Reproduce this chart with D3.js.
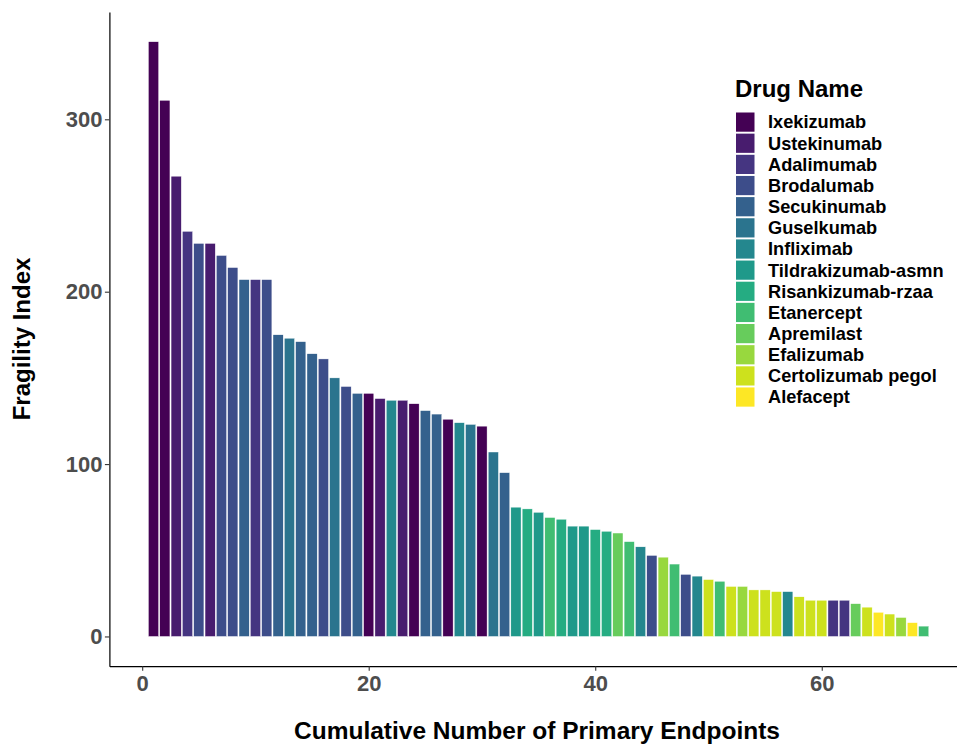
<!DOCTYPE html>
<html>
<head>
<meta charset="utf-8">
<script src="https://cdn.jsdelivr.net/npm/d3@7"></script>
<style>
  html, body { margin: 0; padding: 0; background: #fff; }
  svg { display: block; }
  text { font-family: "Liberation Sans", Arial, sans-serif; font-weight: bold; }
</style>
</head>
<body>
<svg id="chart" width="957" height="747"></svg>
<script>
// ---- data ----
const drugNames = ["Ixekizumab","Ustekinumab","Adalimumab","Brodalumab","Secukinumab","Guselkumab","Infliximab","Tildrakizumab-asmn","Risankizumab-rzaa","Etanercept","Apremilast","Efalizumab","Certolizumab pegol","Alefacept"];
const fragilityIndex = [345,311,267,235,228,228,221,214,207,207,207,175,173,171,164,161,150,145,141,141,138,137,137,135,131,129,126,124,123,122,107,95,75,74,72,69,68,64,64,62,61,60,55,52,47,46,42,36,35,33,32,29,29,27,27,26,26,23,21,21,21,21,19,17,14,13,11,8,6];
const barDrug = ["Ixekizumab","Ixekizumab","Ustekinumab","Adalimumab","Brodalumab","Ustekinumab","Brodalumab","Brodalumab","Secukinumab","Adalimumab","Brodalumab","Secukinumab","Guselkumab","Secukinumab","Secukinumab","Brodalumab","Guselkumab","Brodalumab","Secukinumab","Ixekizumab","Ustekinumab","Infliximab","Ustekinumab","Ixekizumab","Secukinumab","Secukinumab","Ixekizumab","Infliximab","Guselkumab","Ixekizumab","Guselkumab","Secukinumab","Tildrakizumab-asmn","Risankizumab-rzaa","Tildrakizumab-asmn","Etanercept","Risankizumab-rzaa","Tildrakizumab-asmn","Tildrakizumab-asmn","Risankizumab-rzaa","Risankizumab-rzaa","Apremilast","Etanercept","Infliximab","Brodalumab","Efalizumab","Etanercept","Brodalumab","Infliximab","Certolizumab pegol","Etanercept","Certolizumab pegol","Efalizumab","Certolizumab pegol","Certolizumab pegol","Certolizumab pegol","Infliximab","Certolizumab pegol","Certolizumab pegol","Certolizumab pegol","Adalimumab","Adalimumab","Apremilast","Certolizumab pegol","Alefacept","Certolizumab pegol","Efalizumab","Alefacept","Etanercept"];
const xTicks = [0,20,40,60];
const yTicks = [0,100,200,300];

const rows = fragilityIndex.map((v,i) => ({pos: i+1, value: v, drug: barDrug[i]}));

const svg = d3.select("#chart");
svg.append("rect").attr("width",957).attr("height",747).attr("fill","#fff");

const n = rows.length;
const xMin = 0.55, xMax = n + 0.45, xPad = (xMax - xMin) * 0.05;
const x = d3.scaleLinear().domain([xMin - xPad, xMax + xPad]).range([109.4, 967.8]);
const yMaxV = d3.max(fragilityIndex), yPad = yMaxV * 0.05;
const y = d3.scaleLinear().domain([-yPad, yMaxV + yPad]).range([666.2, 12.0]);

const color = d3.scaleOrdinal(drugNames, drugNames.map((d,i) => d3.interpolateViridis(i/(drugNames.length-1))));

// bars
svg.append("g").selectAll("rect").data(rows).join("rect")
  .attr("x", d => x(d.pos - 0.45))
  .attr("width", d => x(d.pos + 0.45) - x(d.pos - 0.45))
  .attr("y", d => y(d.value))
  .attr("height", d => y(0) - y(d.value))
  .attr("fill", d => color(d.drug))
  .attr("stroke", "#fff").attr("stroke-width", 0.4);

// axes
const xAxis = svg.append("g").attr("transform", `translate(0,${y.range()[0]})`)
  .call(d3.axisBottom(x).tickValues(xTicks).tickSize(4.5).tickSizeOuter(0).tickPadding(4.5).tickFormat(d3.format("d")));
const yAxis = svg.append("g").attr("transform", `translate(${x.range()[0]},0)`)
  .call(d3.axisLeft(y).tickValues(yTicks).tickSize(4.5).tickSizeOuter(0).tickPadding(2.5).tickFormat(d3.format("d")));
[xAxis, yAxis].forEach(g => {
  g.select(".domain").attr("stroke", "#000").attr("stroke-width", 1.2);
  g.selectAll(".tick line").attr("stroke", "#333").attr("stroke-width", 1.1);
  g.selectAll(".tick text").attr("fill", "#4d4d4d").style("font-size", "22px")
    .style("font-family", "'Liberation Sans', Arial, sans-serif").style("font-weight", "bold");
});

// axis titles
svg.append("text").attr("x", 537).attr("y", 739).attr("text-anchor", "middle")
  .style("font-size", "24.5px").attr("fill", "#000").text("Cumulative Number of Primary Endpoints");
svg.append("text").attr("transform", "translate(30,339) rotate(-90)").attr("text-anchor", "middle")
  .style("font-size", "24px").attr("fill", "#000").text("Fragility Index");

// legend
const lg = svg.append("g").attr("transform", "translate(736,0)");
lg.append("text").attr("x", -1).attr("y", 97).style("font-size", "24px").attr("fill", "#000").text("Drug Name");
const pitch = 21.15;
const item = lg.selectAll("g.item").data(drugNames).join("g").attr("class","item")
  .attr("transform", (d,i) => `translate(0,${112.5 + i*pitch})`);
item.append("rect").attr("width", 18.5).attr("height", 19.2).attr("fill", d => color(d));
item.append("text").attr("x", 32).attr("y", 9.6).attr("dy", "0.35em")
  .style("font-size", "18.2px").attr("fill", "#000").text(d => d);
</script>
</body>
</html>
